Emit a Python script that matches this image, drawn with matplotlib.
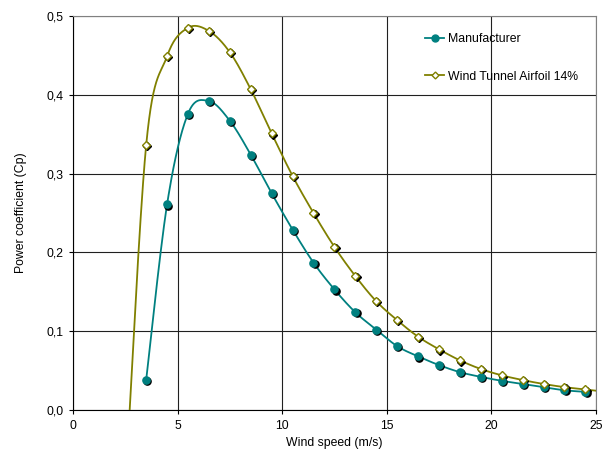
import numpy as np
import matplotlib
matplotlib.use("Agg")
import matplotlib.pyplot as plt
from matplotlib.transforms import offset_copy
from matplotlib.ticker import FuncFormatter

# Wind speed (m/s) and power coefficient values
wind_manu = [3.5, 4.5, 5.5, 6.5, 7.5, 8.5, 9.5, 10.5, 11.5, 12.5, 13.5, 14.5,
             15.5, 16.5, 17.5, 18.5, 19.5, 20.5, 21.5, 22.5, 23.5, 24.5]
cp_manu = [0.038, 0.261, 0.376, 0.392, 0.367, 0.324, 0.275, 0.229, 0.187, 0.153,
           0.124, 0.102, 0.081, 0.068, 0.057, 0.048, 0.042, 0.037, 0.033, 0.029,
           0.025, 0.023]

wind_tunnel = [2.5, 3.5, 4.5, 5.5, 6.5, 7.5, 8.5, 9.5, 10.5, 11.5, 12.5, 13.5,
               14.5, 15.5, 16.5, 17.5, 18.5, 19.5, 20.5, 21.5, 22.5, 23.5, 24.5, 25.5]
cp_tunnel = [-0.10, 0.336, 0.449, 0.485, 0.481, 0.454, 0.407, 0.351, 0.297, 0.250,
             0.207, 0.170, 0.138, 0.114, 0.093, 0.077, 0.063, 0.052, 0.044, 0.038,
             0.033, 0.029, 0.026, 0.023]

TEAL = "#008080"
OLIVE = "#808000"


# Excel-like smoothed line (Catmull-Rom bezier)
def smooth(xs, ys, n=30):
    x = np.asarray(xs, float)
    y = np.asarray(ys, float)
    px = np.concatenate([[x[0]], x, [x[-1]]])
    py = np.concatenate([[y[0]], y, [y[-1]]])
    outx, outy = [], []
    t = np.linspace(0, 1, n)
    for i in range(1, len(px) - 2):
        p0 = np.array([px[i], py[i]])
        p3 = np.array([px[i + 1], py[i + 1]])
        p1 = p0 + (np.array([px[i + 1], py[i + 1]]) - np.array([px[i - 1], py[i - 1]])) / 6
        p2 = p3 - (np.array([px[i + 2], py[i + 2]]) - np.array([px[i], py[i]])) / 6
        b = ((1 - t) ** 3)[:, None] * p0 + (3 * (1 - t) ** 2 * t)[:, None] * p1 \
            + (3 * (1 - t) * t ** 2)[:, None] * p2 + (t ** 3)[:, None] * p3
        outx.extend(b[:, 0])
        outy.extend(b[:, 1])
    return outx, outy


plt.rcParams['font.family'] = ['Liberation Sans', 'DejaVu Sans']
plt.rcParams['font.size'] = 8.8

fig = plt.figure(figsize=(6.08, 4.62), dpi=100)
ax = fig.add_axes([0.120, 0.1126, 0.860, 0.8528])

ax.set_xlim(0, 25)
ax.set_ylim(0, 0.5)
ax.set_xticks(np.arange(0, 26, 5))
ax.set_yticks(np.arange(0, 0.51, 0.1))
ax.yaxis.set_major_formatter(FuncFormatter(lambda v, p: f"{v:.1f}".replace(".", ",")))
ax.grid(True, color="#202020", linewidth=0.8)
ax.set_axisbelow(True)

for s in ["top", "right"]:
    ax.spines[s].set_color("#808080")
for s in ["left", "bottom"]:
    ax.spines[s].set_color("black")
ax.tick_params(direction="out", length=3, width=0.8, colors="black", pad=4)

shadow = offset_copy(ax.transData, fig=fig, x=1.2, y=-1.2, units="dots")

# Manufacturer
sx, sy = smooth(wind_manu, cp_manu)
ax.plot(sx, sy, color=TEAL, lw=1.3, zorder=3)
ax.plot(wind_manu, cp_manu, "o", ms=5.2, color="black", transform=shadow, zorder=4)
ax.plot(wind_manu, cp_manu, "o", ms=5.2, color=TEAL, mec=TEAL, zorder=5)

# Wind tunnel
tx, ty = smooth(wind_tunnel, cp_tunnel)
ax.plot(tx, ty, color=OLIVE, lw=1.3, zorder=3)
ax.plot(wind_tunnel[1:-1], cp_tunnel[1:-1], "D", ms=4.3, color="black", transform=shadow, zorder=4)
ax.plot(wind_tunnel[1:-1], cp_tunnel[1:-1], "D", ms=4.3, mfc="white", mec=OLIVE, mew=1, zorder=5)

# legend handles
h1, = ax.plot([], [], "-o", color=TEAL, ms=5, lw=1.3)
h2, = ax.plot([], [], "-D", color=OLIVE, mfc="white", ms=3.5, lw=1.3)
ax.legend([h1, h2], ["Manufacturer", "Wind Tunnel Airfoil 14%"], loc="upper left",
          bbox_to_anchor=(0.652, 0.985), frameon=False, handlelength=1.6,
          handletextpad=0.3, labelspacing=2.1, fontsize=8.8)

ax.set_xlabel("Wind speed (m/s)", labelpad=4)
ax.set_ylabel("Power coefficient (Cp)", labelpad=14)

fig.savefig("out.png", dpi=100)
